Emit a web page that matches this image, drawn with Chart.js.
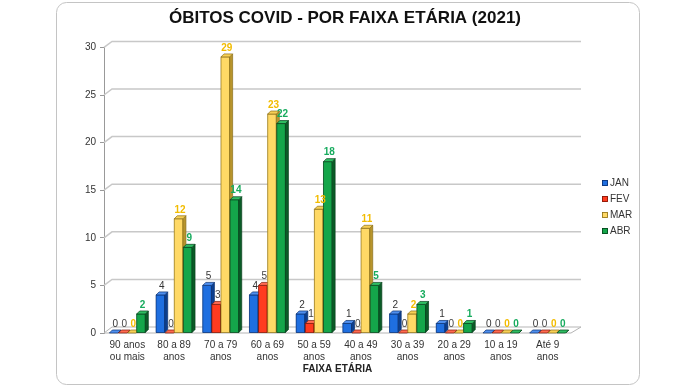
<!DOCTYPE html>
<html><head><meta charset="utf-8">
<script src="https://cdn.jsdelivr.net/npm/chart.js@4.4.1/dist/chart.umd.min.js"></script>
<style>html,body{margin:0;padding:0;background:#fff}</style>
</head><body>
<canvas id="c" width="690" height="386"></canvas>
<script>
const categories = [['90 anos','ou mais'],['80 a 89','anos'],['70 a 79','anos'],['60 a 69','anos'],['50 a 59','anos'],['40 a 49','anos'],['30 a 39','anos'],['20 a 29','anos'],['10 a 19','anos'],['Até 9','anos']];
const seriesNames = ['JAN','FEV','MAR','ABR'];
const jan = [0,4,5,4,2,1,2,1,0,0];
const fev = [0,0,3,5,1,0,0,0,0,0];
const mar = [0,12,29,23,13,11,2,0,0,0];
const abr = [2,9,14,22,18,5,3,1,0,0];
const yTicks = [0,5,10,15,20,25,30];

const F = "'Liberation Sans', Arial, sans-serif";
const frontC = ['#1f6fe0','#ff3b1f','#ffd966','#14a64a'];
const sideC  = ['#0c3f8f','#a8200a','#b8952c','#0a5c27'];
const topC   = ['#4f8fee','#ff6a50','#f7cf55','#2fbd62'];
const edgeC  = ['#0a2f6e','#7a1606','#8a6e1a','#073f1b'];
const labelC = ['#333333','#444444','#f2bc00','#17ab5e'];
const labelW = ['normal','normal','bold','bold'];
const WDX = 8, WDY = 6, BDX = 3, BDY = 3;

const plugin3d = {
  id: 'plugin3d',
  beforeDraw(chart) {
    const ctx = chart.ctx;
    ctx.save();
    ctx.fillStyle = '#fff';
    ctx.fillRect(0, 0, chart.width, chart.height);
    ctx.strokeStyle = '#c4c4c4';
    ctx.lineWidth = 1;
    ctx.beginPath();
    ctx.roundRect(56.5, 2.5, 583, 382, 10);
    ctx.stroke();
    ctx.restore();
  },
  beforeDatasetsDraw(chart) {
    const ctx = chart.ctx, a = chart.chartArea, ys = chart.scales.y;
    ctx.save();
    ctx.strokeStyle = '#c8c8c8';
    ctx.lineWidth = 1.5;
    yTicks.forEach(v => {
      if (v === 0) return;
      const y = ys.getPixelForValue(v);
      ctx.beginPath();
      ctx.moveTo(a.left, y);
      ctx.lineTo(a.left + WDX, y - WDY);
      ctx.lineTo(a.right + WDX + 2, y - WDY);
      ctx.stroke();
    });
    const b = ys.getPixelForValue(0);
    ctx.fillStyle = '#fff';
    ctx.strokeStyle = '#b5b5b5';
    ctx.lineWidth = 1;
    ctx.beginPath();
    ctx.moveTo(a.left, b);
    ctx.lineTo(a.right, b);
    ctx.lineTo(a.right + WDX + 2, b - WDY);
    ctx.lineTo(a.left + WDX, b - WDY);
    ctx.closePath();
    ctx.fill();
    ctx.stroke();
    ctx.restore();
  },
  afterDatasetsDraw(chart) {
    const ctx = chart.ctx;
    ctx.save();
    const n = chart.data.labels.length;
    for (let i = 0; i < n; i++) {
      chart.data.datasets.forEach((ds, d) => {
        const el = chart.getDatasetMeta(d).data[i];
        const p = el.getProps(['x','y','width','base'], true);
        const l = p.x - p.width / 2, r = p.x + p.width / 2, t = Math.min(p.y, p.base), bt = Math.max(p.y, p.base);
        ctx.lineWidth = 0.7;
        ctx.strokeStyle = edgeC[d];
        ctx.fillStyle = frontC[d];
        ctx.beginPath(); ctx.rect(l, t, r - l, bt - t); ctx.fill(); if (bt - t > 0.5) ctx.stroke();
        ctx.fillStyle = sideC[d];
        ctx.beginPath();
        ctx.moveTo(r, t); ctx.lineTo(r + BDX, t - BDY); ctx.lineTo(r + BDX, bt - BDY); ctx.lineTo(r, bt);
        ctx.closePath(); ctx.fill(); ctx.stroke();
        ctx.fillStyle = topC[d];
        ctx.beginPath();
        ctx.moveTo(l, t); ctx.lineTo(l + BDX, t - BDY); ctx.lineTo(r + BDX, t - BDY); ctx.lineTo(r, t);
        ctx.closePath(); ctx.fill(); ctx.stroke();
      });
      chart.data.datasets.forEach((ds, d) => {
        const el = chart.getDatasetMeta(d).data[i];
        const p = el.getProps(['x','y','width','base'], true);
        ctx.font = labelW[d] + ' 10px ' + F;
        ctx.fillStyle = labelC[d];
        ctx.textAlign = 'center';
        ctx.textBaseline = 'bottom';
        ctx.fillText(String(ds.data[i]), p.x + BDX / 2, Math.min(p.y, p.base) - BDY - 1);
      });
    }
    const lx = 602, ly = 183;
    chart.data.datasets.forEach((ds, d) => {
      const y = ly + d * 16;
      ctx.fillStyle = frontC[d];
      ctx.fillRect(lx, y - 3, 6, 6);
      ctx.strokeStyle = edgeC[d];
      ctx.lineWidth = 0.8;
      ctx.strokeRect(lx + 0.5, y - 2.5, 5, 5);
      ctx.fillStyle = '#333';
      ctx.font = '10px ' + F;
      ctx.textAlign = 'left';
      ctx.textBaseline = 'middle';
      ctx.fillText(ds.label, lx + 8, y + 0.5);
    });
    ctx.restore();
  }
};

const datasets = [jan, fev, mar, abr].map((vals, d) => ({
  label: seriesNames[d],
  data: vals,
  backgroundColor: frontC[d],
  borderWidth: 0,
  barPercentage: 0.95,
  categoryPercentage: 0.78
}));

new Chart(document.getElementById('c'), {
  type: 'bar',
  data: { labels: categories, datasets },
  plugins: [plugin3d],
  options: {
    responsive: false,
    animation: false,
    devicePixelRatio: 1,
    layout: { padding: { left: 0, right: 0, top: 0, bottom: 11 } },
    plugins: {
      legend: { display: false },
      tooltip: { enabled: false },
      title: {
        display: true,
        text: 'ÓBITOS COVID - POR FAIXA ETÁRIA (2021)',
        color: '#111',
        font: { family: F, size: 17, weight: 'bold' },
        padding: { top: 8, bottom: 19 }
      }
    },
    scales: {
      x: {
        grid: { display: false, drawTicks: false },
        border: { display: false },
        ticks: { font: { family: F, size: 10 }, color: '#333', padding: 6, autoSkip: false, maxRotation: 0 },
        title: { display: true, text: 'FAIXA ETÁRIA', color: '#222', font: { family: F, size: 10, weight: 'bold' }, padding: { top: -6, bottom: 0 } }
      },
      y: {
        min: 0, max: 30,
        ticks: { stepSize: 5, font: { family: F, size: 10 }, color: '#333', padding: 4 },
        grid: { drawOnChartArea: false, tickLength: 4, color: '#999' },
        border: { display: true, color: '#999' },
        afterFit(s) { s.width = 104; }
      },
      y2: {
        position: 'right',
        display: true,
        grid: { display: false, drawTicks: false },
        border: { display: false },
        ticks: { display: false },
        afterFit(s) { s.width = 119; }
      }
    }
  }
});
</script>
</body></html>
